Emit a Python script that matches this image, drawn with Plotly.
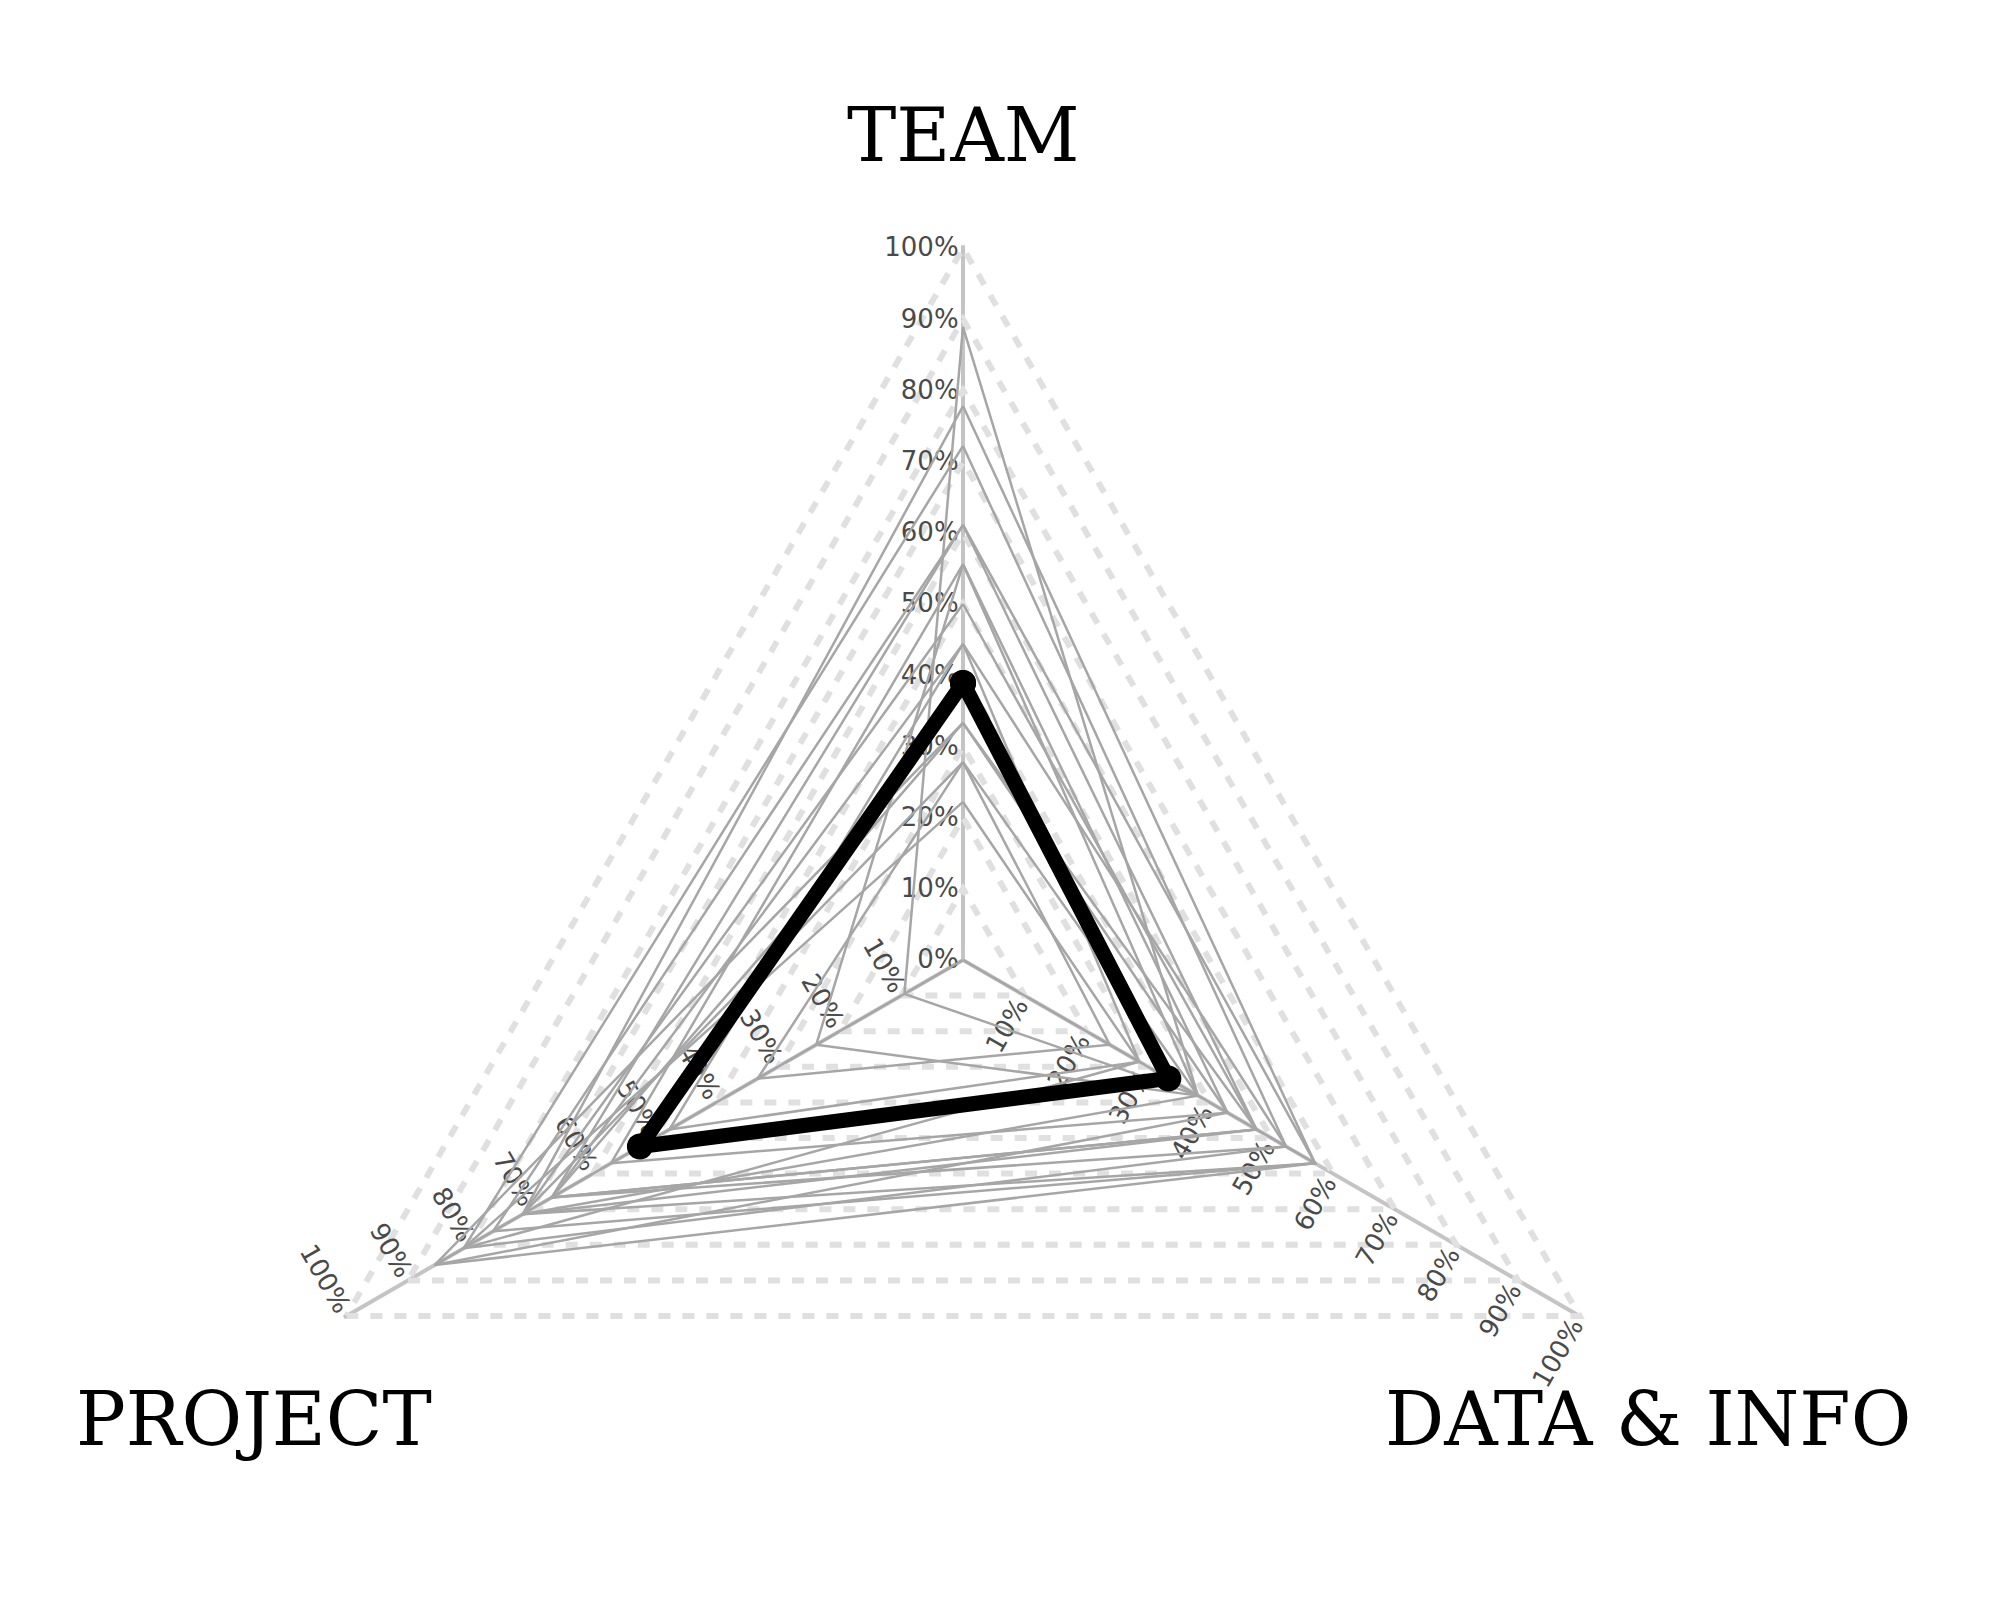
import plotly.graph_objects as go

# --- Data -------------------------------------------------------------
categories = ["TEAM", "DATA & INFO", "PROJECT"]

# background respondents (percent scores)
team_scores    = [88.9, 77.8, 72.2, 61.1, 61.1, 55.6, 50.0, 44.4, 44.4, 33.3, 33.3, 27.8, 27.8, 22.2, 0.0, 55.6]
data_scores    = [38.1, 57.1, 52.4, 47.6, 57.1, 42.9, 47.6, 52.4, 28.6, 42.9, 47.6, 23.8, 38.1, 28.6, 57.1, 38.1]
project_scores = [9.5, 71.4, 81.0, 66.7, 76.2, 57.1, 71.4, 66.7, 47.6, 85.7, 66.7, 33.3, 71.4, 81.0, 85.7, 23.8]

# highlighted respondent
highlight = {"TEAM": 38.9, "DATA & INFO": 33.3, "PROJECT": 52.4}

tick_vals = [0, 10, 20, 30, 40, 50, 60, 70, 80, 90, 100]

# --- Figure -----------------------------------------------------------
W, H = 2000, 1680
fig = go.Figure()

# gray background triangles
for t, d, p in zip(team_scores, data_scores, project_scores):
    fig.add_trace(go.Scatterpolar(
        r=[t, d, p, t],
        theta=categories + categories[:1],
        mode="lines",
        line=dict(color="#a6a6a6", width=2.5),
        hoverinfo="skip",
        showlegend=False,
        cliponaxis=False,
        subplot="polar3",
    ))

# highlighted triangle
hr = [highlight[c] for c in categories]
fig.add_trace(go.Scatterpolar(
    r=hr + hr[:1],
    theta=categories + categories[:1],
    mode="lines+markers",
    line=dict(color="black", width=15),
    marker=dict(color="black", size=26),
    showlegend=False,
    cliponaxis=False,
    subplot="polar3",
))

# placeholders so the label-only subplots get drawn
for sp in ["polar", "polar2"]:
    fig.add_trace(go.Scatterpolar(
        r=[0], theta=categories[:1], mode="markers",
        marker=dict(opacity=0), hoverinfo="skip", showlegend=False, subplot=sp,
    ))

# radial range a bit over 100 so plotly still draws the 100% dashed grid
r_max = 100.4
# centre (955, 952) fig px, 100% at 712 px
R = 712 * r_max / 100
cx, cy = 955, 952
dom = dict(x=[(cx - R) / W, (cx + R) / W], y=[(H - cy - R) / H, (H - cy + R) / H])
tick_font = dict(family="DejaVu Sans", size=26, color="#4a4a4a")


def polar_layout(angle, side, tickangle, vals, grid=False, layer="above traces"):
    return dict(
        domain=dom,
        bgcolor="rgba(0,0,0,0)",
        gridshape="linear",
        angularaxis=dict(
            type="category",
            categoryarray=categories,
            rotation=90,
            direction="clockwise",
            showticklabels=False,
            ticks="",
            showline=False,
            showgrid=grid,
            gridcolor="#c4c4c4",
            gridwidth=4,
        ),
        radialaxis=dict(
            range=[0, r_max],
            angle=angle,
            side=side,
            tickangle=tickangle,
            tickvals=vals,
            ticktext=[f"{v}%" for v in vals],
            tickfont=tick_font,
            ticks="",
            showline=False,
            showgrid=grid,
            gridcolor="#e0e0e0",
            gridwidth=6,
            griddash="12px,12px",
            layer=layer,
        ),
    )


fig.update_layout(
    width=W,
    height=H,
    margin=dict(l=0, r=0, t=0, b=0),
    paper_bgcolor="white",
    plot_bgcolor="white",
    polar=polar_layout(90, "counterclockwise", 90, tick_vals, grid=True),
    polar2=polar_layout(-30, "clockwise", -90, tick_vals[1:]),
    polar3=polar_layout(210, "clockwise", -90, tick_vals[1:], layer="below traces"),
)

label_font = dict(family="Roboto Slab, DejaVu Serif, serif", size=74, color="black")
label_pos = {
    "TEAM": dict(x=955 / W, y=1 - 127 / H, xanchor="center"),
    "DATA & INFO": dict(x=1905 / W, y=1 - 1411 / H, xanchor="right"),
    "PROJECT": dict(x=66 / W, y=1 - 1411 / H, xanchor="left"),
}
for name in categories:
    fig.add_annotation(text=name, xref="paper", yref="paper", showarrow=False,
                       yanchor="middle", font=label_font, **label_pos[name])

fig.write_html("out.html")
